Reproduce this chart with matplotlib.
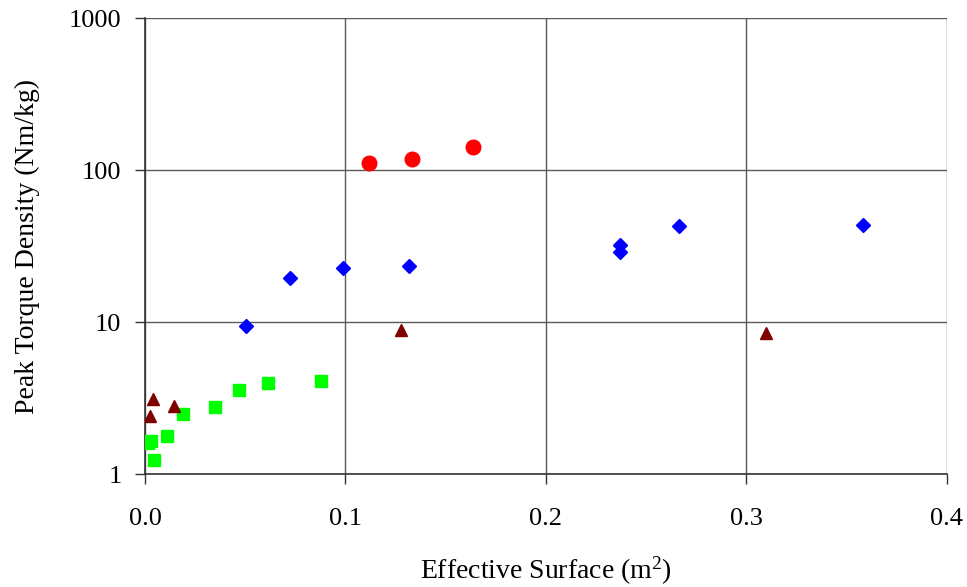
import matplotlib

matplotlib.use("Agg")
import matplotlib.pyplot as plt
from matplotlib.ticker import FixedLocator, FormatStrFormatter

# Effective surface (m^2) vs peak torque density (Nm/kg)
circle_x = [0.1117, 0.1332, 0.1636]
circle_y = [111.5, 119.2, 141.5]

diamond_x = [0.0502, 0.0725, 0.0989, 0.1315, 0.2369, 0.2369, 0.2665, 0.3583]
diamond_y = [9.51, 19.7, 22.8, 23.4, 32.2, 28.9, 42.9, 44.0]

triangle_x = [0.0040, 0.0023, 0.0143, 0.1275, 0.3097]
triangle_y = [3.14, 2.43, 2.80, 8.86, 8.51]

square_x = [0.0016, 0.0028, 0.0046, 0.0110, 0.0190, 0.0349, 0.0470, 0.0613, 0.0876]
square_y = [1.61, 1.67, 1.246, 1.785, 2.51, 2.77, 3.60, 3.99, 4.09]

x_ticks = [0.0, 0.1, 0.2, 0.3, 0.4]
y_ticks = [1, 10, 100, 1000]

plt.rcParams["font.family"] = ["Liberation Serif", "DejaVu Serif"]
plt.rcParams["font.size"] = 19
plt.rcParams["mathtext.fontset"] = "custom"
plt.rcParams["mathtext.rm"] = "Liberation Serif"

fig = plt.figure(figsize=(9.67, 5.87), dpi=100)
ax = fig.add_axes([0.15, 0.1917, 0.829, 0.777])

grid_color = "#5a5a5a"
ax.set_yscale("log")
ax.set_xlim(0.0, 0.4)
ax.set_ylim(1, 1000)

ax.plot(square_x, square_y, linestyle="none", marker="s", markersize=8,
        color="#00ff00", zorder=3)
ax.plot(triangle_x, triangle_y, linestyle="none", marker="^", markersize=8,
        color="#800000", zorder=3)
ax.plot(diamond_x, diamond_y, linestyle="none", marker="D", markersize=7.5,
        color="#0000ff", zorder=3)
ax.plot(circle_x, circle_y, linestyle="none", marker="o", markersize=10.5,
        color="#ff0000", zorder=3)

ax.xaxis.set_major_locator(FixedLocator(x_ticks))
ax.xaxis.set_major_formatter(FormatStrFormatter("%.1f"))
ax.yaxis.set_major_locator(FixedLocator(y_ticks))
ax.yaxis.set_major_formatter(FormatStrFormatter("%d"))
ax.yaxis.set_minor_locator(FixedLocator([]))

ax.grid(True, color=grid_color, linewidth=1.0)
ax.set_axisbelow(True)
for side in ["top", "right"]:
    ax.spines[side].set_visible(False)
for side in ["left", "bottom"]:
    ax.spines[side].set_color("#333333")
    ax.spines[side].set_linewidth(1.2)

ax.tick_params(axis="both", direction="out", length=7, width=1.0, color="#333333")
ax.tick_params(axis="y", pad=10)
ax.tick_params(axis="x", pad=17)

ax.set_xlabel("Effective Surface (m$\\mathregular{^2}$)", fontsize=20, labelpad=18)
ax.set_ylabel("Peak Torque Density (Nm/kg)", fontsize=20, labelpad=21)

fig.savefig("out.png", dpi=100)
